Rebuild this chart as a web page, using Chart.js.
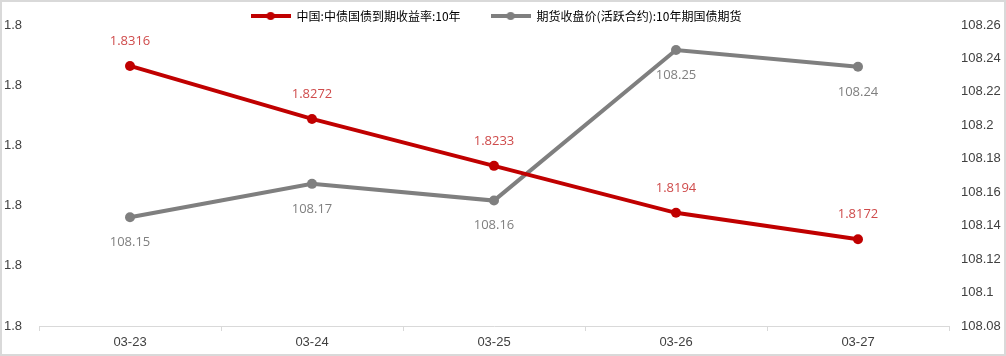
<!DOCTYPE html>
<html><head><meta charset="utf-8">
<script src="https://cdn.jsdelivr.net/npm/chart.js@4"></script>
<style>html,body{margin:0;padding:0;background:#fff}#wrap{width:1006px;height:356px;position:relative}</style>
</head><body><div id="wrap"><canvas id="c" width="1006" height="356"></canvas></div>
<script>
const categories = ['03-23', '03-24', '03-25', '03-26', '03-27'];
const yieldName = '中国:中债国债到期收益率:10年';
const yieldValues = [1.8316, 1.8272, 1.8233, 1.8194, 1.8172];
const futuresName = '期货收盘价(活跃合约):10年期国债期货';
const futuresValues = [108.145, 108.165, 108.155, 108.245, 108.235];
const leftTicks = {min: 1.81, max: 1.835, step: 0.005};
const rightTicks = {min: 108.08, max: 108.26, step: 0.02};

const RED = '#c00000', GREY = '#7f7f7f';
const NUMFONT = "'Open Sans', 'Noto Sans CJK SC', sans-serif";
const AXFONT = "'Liberation Sans', Arial, sans-serif";
const LEG_PAD = 30;

function legendImg(color) {
  const c = document.createElement('canvas');
  c.width = 40; c.height = 10;
  const x = c.getContext('2d');
  x.strokeStyle = color; x.lineWidth = 4;
  x.beginPath(); x.moveTo(0, 5); x.lineTo(40, 5); x.stroke();
  x.fillStyle = color; x.beginPath(); x.arc(20, 5, 4, 0, Math.PI * 2); x.fill();
  return c;
}

const borderPlugin = {
  id: 'border',
  beforeDraw(chart) {
    const ctx = chart.ctx;
    ctx.save();
    ctx.fillStyle = '#fff';
    ctx.fillRect(0, 0, chart.width, chart.height);
    ctx.strokeStyle = '#d9d9d9'; ctx.lineWidth = 2;
    ctx.strokeRect(1, 1, chart.width - 2, chart.height - 2);
    ctx.restore();
  }
};

const legendFit = {
  id: 'legendFit',
  beforeInit(chart) {
    const orig = chart.legend.fit;
    chart.legend.fit = function () { orig.bind(chart.legend)(); this.height = 23; };
  },
  afterLayout(chart) {
    const lg = chart.legend;
    const dy = LEG_PAD - 8;
    lg.top -= dy;
    lg.left -= 7; lg.right -= 7;
  }
};

function fmt2(v) { return String(Math.round(v * 100 + 1e-6) / 100); }

const labelPlugin = {
  id: 'dlabels',
  afterDatasetsDraw(chart) {
    const ctx = chart.ctx;
    ctx.save();
    ctx.font = '13px ' + NUMFONT;
    ctx.textAlign = 'center';
    ctx.textBaseline = 'middle';
    chart.data.datasets.forEach((ds, i) => {
      const meta = chart.getDatasetMeta(i);
      meta.data.forEach((pt, j) => {
        const v = ds.data[j];
        if (i === 0) {
          ctx.fillStyle = '#cf4b4b';
          ctx.fillText(String(v), pt.x, pt.y - 25);
        } else {
          ctx.fillStyle = '#7f7f7f';
          ctx.fillText(fmt2(v), pt.x, pt.y + 25);
        }
      });
    });
    ctx.restore();
  }
};

new Chart(document.getElementById('c'), {
  type: 'line',
  data: {
    labels: categories,
    datasets: [
      {label: yieldName, data: yieldValues, yAxisID: 'y', borderColor: RED, backgroundColor: RED,
       borderWidth: 4, pointRadius: 5, pointHoverRadius: 5, pointBackgroundColor: RED, pointBorderWidth: 0,
       pointStyle: 'circle', tension: 0},
      {label: futuresName, data: futuresValues, yAxisID: 'y1', borderColor: GREY, backgroundColor: GREY,
       borderWidth: 4, pointRadius: 5, pointHoverRadius: 5, pointBackgroundColor: GREY, pointBorderWidth: 0,
       pointStyle: 'circle', tension: 0}
    ]
  },
  options: {
    responsive: false,
    animation: false,
    devicePixelRatio: 1,
    layout: {padding: {left: 2, right: 2, top: 2, bottom: 2}},
    plugins: {
      tooltip: {enabled: false},
      legend: {
        position: 'top',
        labels: {
          usePointStyle: true,
          pointStyleWidth: 40,
          padding: LEG_PAD,
          color: '#000',
          font: {size: 12, family: "'Noto Sans CJK SC', sans-serif"},
          generateLabels(chart) {
            return chart.data.datasets.map((ds, i) => ({
              text: ds.label, pointStyle: legendImg(ds.borderColor), fillStyle: ds.borderColor,
              strokeStyle: ds.borderColor, lineWidth: 0, hidden: false, datasetIndex: i, fontColor: '#000'
            }));
          }
        }
      }
    },
    scales: {
      x: {
        offset: true,
        grid: {offset: true, drawOnChartArea: false, drawTicks: true, tickLength: 5, color: '#d9d9d9'},
        border: {color: '#d9d9d9', width: 1},
        ticks: {color: '#404040', font: {size: 13, family: AXFONT}, padding: 4, maxRotation: 0},
        afterFit(s) { s.height = 28; }
      },
      y: {
        position: 'left',
        min: leftTicks.min, max: leftTicks.max,
        grid: {display: false, drawTicks: false},
        border: {display: false},
        ticks: {stepSize: leftTicks.step, color: '#404040', font: {size: 13, family: AXFONT}, padding: 17,
                callback: v => Number(v).toFixed(1)},
        afterFit(s) { s.width = 37; }
      },
      y1: {
        position: 'right',
        min: rightTicks.min, max: rightTicks.max,
        grid: {display: false, drawTicks: false},
        border: {display: false},
        ticks: {stepSize: rightTicks.step, color: '#404040', font: {size: 13, family: AXFONT}, padding: 12,
                callback: v => String(parseFloat(Number(v).toFixed(2)))},
        afterFit(s) { s.width = 55; }
      }
    }
  },
  plugins: [borderPlugin, legendFit, labelPlugin]
});
</script></body></html>
